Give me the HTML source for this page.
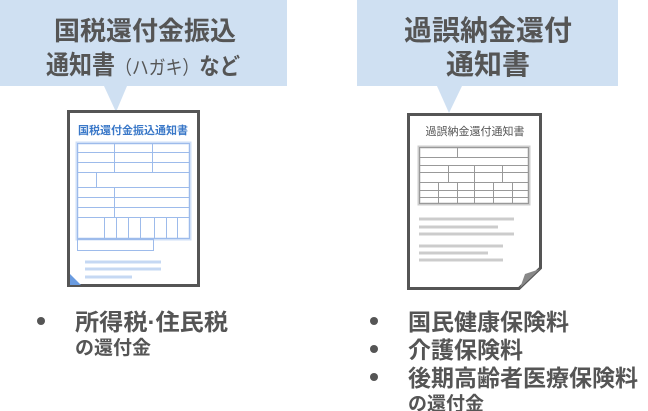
<!DOCTYPE html>
<html><head><meta charset="utf-8"><style>
html,body{margin:0;padding:0;background:#fff;}
svg{display:block}
text{font-family:"Liberation Sans","Noto Sans CJK JP",sans-serif;}
</style></head><body>
<svg width="648" height="411" viewBox="0 0 648 411" xmlns="http://www.w3.org/2000/svg">
<rect x="0" y="0" width="287" height="86" fill="#cfe0f2"/>
<polygon points="104,86 127,86 116,112" fill="#cfe0f2"/>
<rect x="357" y="0" width="261" height="86" fill="#cfe0f2"/>
<polygon points="437,86 462,86 449,113" fill="#cfe0f2"/>
<g fill="#555" font-weight="bold" text-anchor="middle">
<text x="145" y="40" font-size="26">国税還付金振込</text>
<text x="488" y="40" font-size="28">過誤納金還付</text>
<text x="488" y="74" font-size="28">通知書</text>
</g>
<text x="46" y="74" font-size="26" font-weight="bold" fill="#555" textLength="194" lengthAdjust="spacingAndGlyphs"><tspan>通知書</tspan><tspan font-size="19" font-weight="normal">（ハガキ）</tspan><tspan font-size="23">など</tspan></text>
<rect x="68.5" y="111.5" width="130" height="174" fill="#fff" stroke="#555" stroke-width="3"/>
<polygon points="70,274 70,285 81,285" fill="#6a9be0"/>
<text x="133" y="134" font-size="11" font-weight="bold" fill="#3a78c8" text-anchor="middle">国税還付金振込通知書</text>
<rect x="77" y="143" width="113" height="96" fill="none" stroke="#cfdff7" stroke-width="3"/>
<g stroke="#9dbbeb" stroke-width="1" fill="none">
<rect x="77.5" y="143.5" width="112" height="95"/>
<path d="M77 152.5H190M77 162.5H190M77 172.5H190M77 187.5H190M77 197.5H190M77 207.5H190M77 217.5H190"/>
<path d="M114.5 143V172M152.5 143V172M96.5 172V187M114.5 187V217"/>
<path d="M104.5 217V239M116.5 217V239M128.5 217V239M140.5 217V239M154.5 217V239M166.5 217V239M177.5 217V239"/>
<rect x="77.5" y="239.5" width="76" height="11"/>
</g>
<g stroke="#c5d8f3" stroke-width="3">
<path d="M85 262H161M85 269H161M85 277H132"/>
</g>
<path d="M408.5 114.5H540.5V268L519 288.5H408.5Z" fill="#fff" stroke="#555" stroke-width="3"/>
<polygon points="540,269 520,288 525,274" fill="#888"/>
<text x="475" y="135" font-size="11" fill="#555" text-anchor="middle">過誤納金還付通知書</text>
<rect x="419" y="147" width="110" height="57" fill="none" stroke="#ccc" stroke-width="3"/>
<g stroke="#999" stroke-width="1" fill="none">
<rect x="419.5" y="147.5" width="109" height="56"/>
<path d="M419 157.5H529M419 165.5H529M419 172.5H529M419 182.5H529M419 190.5H529M419 197.5H529"/>
<path d="M457.5 147V157M448.5 165V182M474.5 165V182M502.5 165V182"/>
<path d="M438.5 182V204M457.5 182V204M474.5 182V204M493.5 182V204M512.5 182V204"/>
</g>
<g stroke="#ccc" stroke-width="3">
<path d="M419 219H514M419 227H498M419 234H514M419 246H503M419 253H488M419 260H503"/>
</g>
<g fill="#555" font-weight="bold" font-size="23">
<circle cx="41" cy="321" r="4"/>
<text x="75" y="330" textLength="153" lengthAdjust="spacingAndGlyphs">所得税·住民税</text>
<text x="75" y="354" font-size="19">の還付金</text>
<circle cx="374" cy="321" r="4"/>
<circle cx="374" cy="349" r="4"/>
<circle cx="374" cy="377" r="4"/>
<text x="408" y="330">国民健康保険料</text>
<text x="408" y="358">介護保険料</text>
<text x="408" y="386">後期高齢者医療保険料</text>
<text x="408" y="410" font-size="19">の還付金</text>
</g>
</svg>
</body></html>
